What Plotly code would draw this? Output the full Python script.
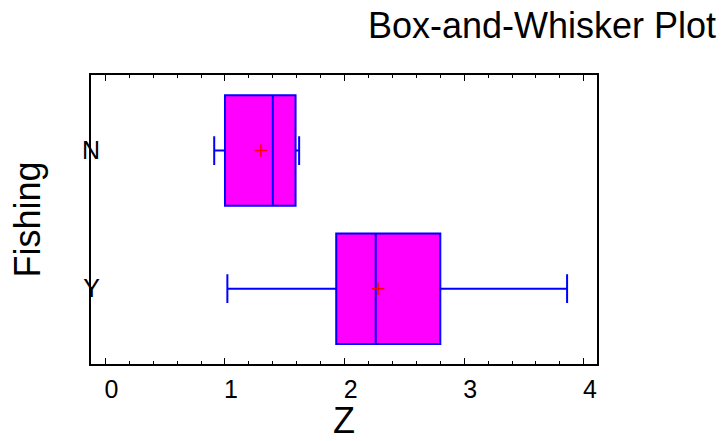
import plotly.graph_objects as go

categories = ["N", "Y"]
q1 = [1.00, 1.93]
median = [1.40, 2.26]
q3 = [1.59, 2.80]
lower_whisker = [0.91, 1.02]
upper_whisker = [1.62, 3.86]
means = [1.30, 2.28]
x_ticks = [0, 1, 2, 3, 4]

FONT = "Liberation Sans, Arial, sans-serif"

fig = go.Figure()
fig.add_trace(go.Box(
    y=categories, q1=q1, median=median, q3=q3,
    lowerfence=lower_whisker, upperfence=upper_whisker,
    orientation="h", boxpoints=False,
    fillcolor="#FF00FF", line=dict(color="#0000FF", width=2),
    width=0.8, whiskerwidth=0.26, showlegend=False,
))
fig.add_trace(go.Scatter(
    x=means, y=categories, mode="markers",
    marker=dict(symbol="cross-thin", size=9, line=dict(color="#FF0000", width=1.5)),
    showlegend=False,
))

fig.update_layout(
    width=723, height=441,
    margin=dict(l=91, r=126, t=75, b=77, autoexpand=False),
    paper_bgcolor="white", plot_bgcolor="white",
    font=dict(family=FONT, color="black"),
    title=dict(text="Box-and-Whisker Plot", font=dict(size=36, family=FONT),
               x=716/723, xanchor="right", xref="container",
               y=1 - 25/441, yanchor="middle", yref="container"),
)
fig.update_xaxes(
    range=[-0.12, 4.11], tickvals=x_ticks, ticktext=[str(t) for t in x_ticks],
    showgrid=False, zeroline=False, automargin=False,
    showline=True, linecolor="black", linewidth=2, mirror="allticks",
    ticks="inside", ticklen=6, tickwidth=1, tickcolor="black",
    minor=dict(dtick=0.2, ticks="inside", ticklen=3, tickwidth=1, tickcolor="black"),
    tickfont=dict(size=25), ticklabelstandoff=2, ticklabelshift=6,
    title=dict(text="Z", font=dict(size=36), standoff=10),
)
fig.update_yaxes(
    type="category", categoryorder="array", categoryarray=["Y", "N"],
    range=[-0.545, 1.547],
    showgrid=False, zeroline=False, automargin=False,
    showline=True, linecolor="black", linewidth=2, mirror=True,
    ticks="", tickfont=dict(size=25, color="black"), ticklabelstandoff=-16,
    title=dict(text="Fishing", font=dict(size=36), standoff=30),
)

fig.write_html("out.html", config={"displayModeBar": False},
               post_script="document.body.style.margin='0';")
